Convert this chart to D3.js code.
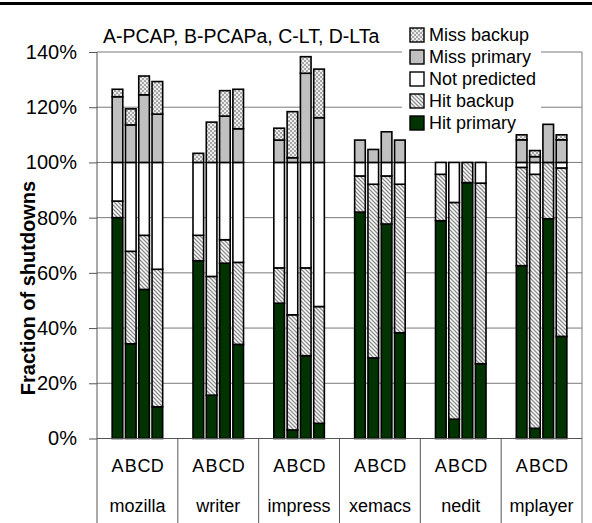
<!DOCTYPE html>
<html>
<head>
<meta charset="utf-8">
<script src="https://cdn.jsdelivr.net/npm/d3@7"></script>
<style>
  html, body { margin: 0; padding: 0; background: #fff; }
  svg { display: block; font-family: "Liberation Sans", Arial, sans-serif; }
</style>
</head>
<body>
<svg id="chart" width="592" height="523"></svg>
<script>
// ---- data ----
const apps = ["mozilla", "writer", "impress", "xemacs", "nedit", "mplayer"];
const variants = ["A", "B", "C", "D"];
const seriesNames = ["Hit primary", "Hit backup", "Not predicted", "Miss primary", "Miss backup"];
const legendOrder = ["Miss backup", "Miss primary", "Not predicted", "Hit backup", "Hit primary"];
const titleText = "A-PCAP, B-PCAPa, C-LT, D-LTa";
const yTicks = [0, 20, 40, 60, 80, 100, 120, 140];

// segment values (%) per app, per variant A-D
const hitPrimary = [
  [80, 34.3, 54, 11.5],
  [64.4, 15.7, 63.5, 34.1],
  [49, 3.1, 30, 5.5],
  [82, 29.2, 77.7, 38.3],
  [78.9, 7, 92.7, 27.1],
  [62.6, 3.7, 79.6, 37]
];
const hitBackup = [
  [6, 33.5, 19.6, 49.8],
  [9.2, 43, 8.5, 29.7],
  [12.8, 41.7, 31.8, 42.3],
  [13.1, 62.9, 17.4, 53.8],
  [16.8, 78.5, 7.3, 65.4],
  [35.6, 92, 20.4, 61]
];
const notPredicted = [
  [14, 32.2, 26.4, 38.7],
  [26.4, 41.3, 28, 36.2],
  [38.2, 55.2, 38.2, 52.2],
  [4.9, 7.9, 4.9, 7.9],
  [4.3, 14.5, 0, 7.5],
  [1.8, 4.3, 0, 2]
];
const missPrimary = [
  [23.8, 13.6, 24.5, 17.5],
  [0, 0, 16.8, 12.2],
  [8.1, 1.7, 32.3, 16.2],
  [8.1, 4.7, 11.1, 8.1],
  [0, 0, 0, 0],
  [8.2, 2.1, 13.8, 8.2]
];
const missBackup = [
  [2.7, 5.8, 6.8, 11.8],
  [3.3, 14.6, 9.2, 14.3],
  [4.3, 16.7, 6, 17.6],
  [0, 0, 0, 0],
  [0, 0, 0, 0],
  [1.8, 2.2, 0, 1.8]
];
const seriesValues = [hitPrimary, hitBackup, notPredicted, missPrimary, missBackup];

// ---- build table ----
const rows = [];
apps.forEach((app, i) => {
  variants.forEach((v, j) => {
    const r = { app, variant: v };
    seriesNames.forEach((s, k) => { r[s] = seriesValues[k][i][j]; });
    rows.push(r);
  });
});
const stacked = d3.stack().keys(seriesNames)(rows);

// ---- svg ----
const svg = d3.select("#chart");
const defs = svg.append("defs");

// hatch pattern (Hit backup)
const hatch = defs.append("pattern").attr("id", "hatch")
  .attr("patternUnits", "userSpaceOnUse").attr("width", 4).attr("height", 4);
hatch.append("rect").attr("width", 4).attr("height", 4).attr("fill", "#fff");
hatch.append("path").attr("d", "M-1,-1 L5,5 M-1,3 L1,5 M3,-1 L5,1")
  .attr("stroke", "#8c8c8c").attr("stroke-width", 1.3);

// stipple pattern (Miss backup)
const dots = defs.append("pattern").attr("id", "dots")
  .attr("patternUnits", "userSpaceOnUse").attr("width", 4).attr("height", 4);
dots.append("rect").attr("width", 4).attr("height", 4).attr("fill", "#ececec");
dots.append("rect").attr("x", 0).attr("y", 0).attr("width", 2).attr("height", 2).attr("fill", "#a6a6a6");
dots.append("rect").attr("x", 2).attr("y", 2).attr("width", 2).attr("height", 2).attr("fill", "#a6a6a6");

const fills = {
  "Hit primary": "#003300",
  "Hit backup": "url(#hatch)",
  "Not predicted": "#ffffff",
  "Miss primary": "#c0c0c0",
  "Miss backup": "url(#dots)"
};

const plotLeft = 97, plotRight = 582, plotTop = 52, plotBottom = 438.5;

const y = d3.scaleLinear().domain([0, 140]).range([plotBottom, plotTop]);
const x0 = d3.scaleBand().domain(apps).range([plotLeft, plotRight]).padding(0);
const x1 = d3.scaleBand().domain(variants).range([0, x0.bandwidth()])
  .paddingInner(0.2).paddingOuter(1.14);

// top black rule
svg.append("rect").attr("x", 0).attr("y", 2).attr("width", 592).attr("height", 3).attr("fill", "#000");

// gridlines
svg.append("g").selectAll("line").data(yTicks.filter(d => d > 0)).join("line")
  .attr("x1", plotLeft).attr("x2", plotRight)
  .attr("y1", d => y(d)).attr("y2", d => y(d))
  .attr("stroke", "#7a7a7a").attr("stroke-width", 1);

// right border
svg.append("line").attr("x1", plotRight).attr("x2", plotRight).attr("y1", plotTop).attr("y2", 523)
  .attr("stroke", "#7a7a7a").attr("stroke-width", 1);

// bars
const gBars = svg.append("g");
stacked.forEach(layer => {
  gBars.append("g").selectAll("rect").data(layer.filter(d => d[1] - d[0] > 0)).join("rect")
    .attr("x", d => x0(d.data.app) + x1(d.data.variant))
    .attr("width", x1.bandwidth())
    .attr("y", d => y(d[1]))
    .attr("height", d => y(d[0]) - y(d[1]))
    .attr("fill", fills[layer.key])
    .attr("stroke", "#000").attr("stroke-width", 1.6);
});

// y axis
const yAxis = d3.axisLeft(y).tickValues(yTicks).tickFormat(d => d + "%")
  .tickSize(8).tickPadding(12);
const gy = svg.append("g").attr("transform", `translate(${plotLeft},0)`).call(yAxis);
gy.select(".domain").remove();
gy.selectAll(".tick line").attr("stroke", "#555");
gy.selectAll(".tick text").attr("font-size", 20).attr("fill", "#000")
  .attr("font-family", '"Liberation Sans", Arial, sans-serif');
svg.append("line").attr("x1", plotLeft).attr("x2", plotLeft).attr("y1", plotTop).attr("y2", 523)
  .attr("stroke", "#555").attr("stroke-width", 1);
// baseline
svg.append("line").attr("x1", plotLeft).attr("x2", plotRight).attr("y1", plotBottom).attr("y2", plotBottom)
  .attr("stroke", "#555").attr("stroke-width", 1);

// category separators
svg.append("g").selectAll("line").data(apps.slice(1)).join("line")
  .attr("x1", d => x0(d)).attr("x2", d => x0(d))
  .attr("y1", plotBottom).attr("y2", 523)
  .attr("stroke", "#555").attr("stroke-width", 1);

// variant letters
svg.append("g").selectAll("text").data(rows).join("text")
  .attr("x", d => x0(d.app) + x1(d.variant) + x1.bandwidth() / 2)
  .attr("y", 471.5)
  .attr("text-anchor", "middle").attr("font-size", 18)
  .text(d => d.variant);

// app names
svg.append("g").selectAll("text").data(apps).join("text")
  .attr("x", d => x0(d) + x0.bandwidth() / 2)
  .attr("y", 511.5)
  .attr("text-anchor", "middle").attr("font-size", 18)
  .text(d => d);

// y label
svg.append("text")
  .attr("transform", "translate(35,288) rotate(-90)")
  .attr("text-anchor", "middle").attr("font-size", 20).attr("font-weight", "bold")
  .text("Fraction of shutdowns");

// title
svg.append("text").attr("x", 103).attr("y", 43).attr("font-size", 19.5).text(titleText);

// legend
const lg = svg.append("g");
lg.append("rect").attr("x", 402).attr("y", 24).attr("width", 139).attr("height", 110).attr("fill", "#fff");
legendOrder.forEach((name, i) => {
  const cy = 35 + i * 22;
  lg.append("rect").attr("x", 410).attr("y", cy - 7).attr("width", 14).attr("height", 14)
    .attr("fill", fills[name]).attr("stroke", "#000").attr("stroke-width", 1.4);
  lg.append("text").attr("x", 429).attr("y", cy).attr("dy", "0.35em")
    .attr("font-size", 18).text(name);
});
</script>
</body>
</html>
